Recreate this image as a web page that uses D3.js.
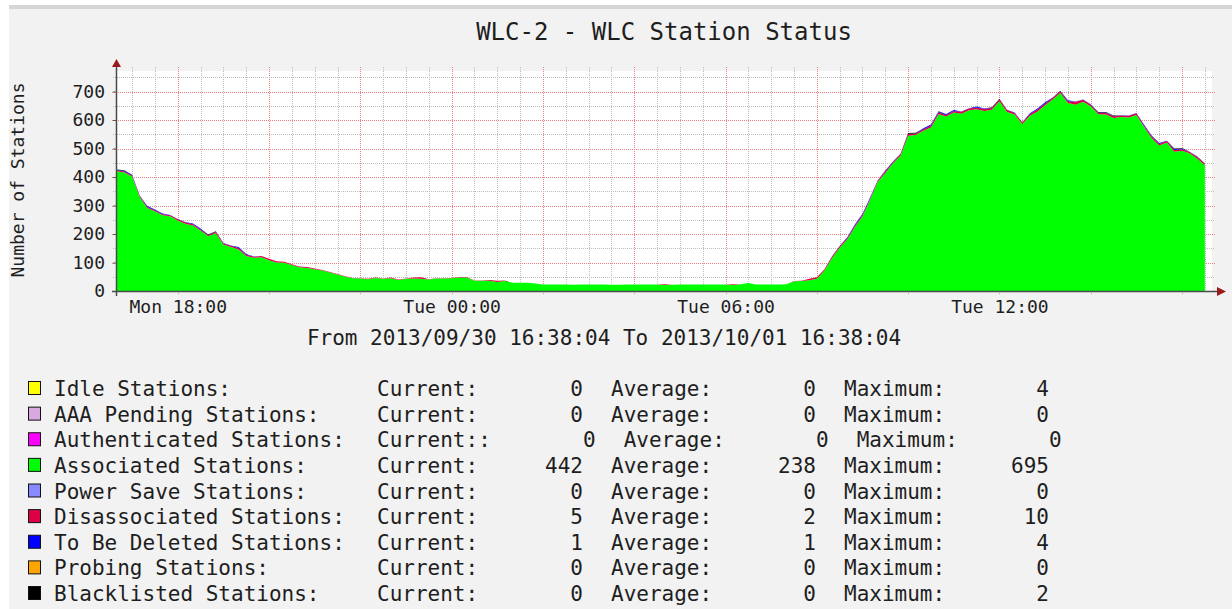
<!DOCTYPE html>
<html><head><meta charset="utf-8">
<script src="https://cdn.jsdelivr.net/npm/d3@7"></script>
<style>
body{margin:0;background:#fff}
text{font-family:"DejaVu Sans Mono","Liberation Mono",monospace;fill:#1e1e1e}
</style>
</head><body>
<svg id="c" width="1232" height="609"></svg>
<script>
// ---------------- DATA ----------------
const chartTitle = "WLC-2 - WLC Station Status";
const yAxisTitle = "Number of Stations";
const startTime = "2013-09-30T16:38:04Z";
const endTime   = "2013-10-01T16:38:04Z";
const firstSample = "2013-09-30T16:40:00Z";
const sampleStepMinutes = 10;

const xTickTimes  = ["2013-09-30T18:00:00Z","2013-10-01T00:00:00Z","2013-10-01T06:00:00Z","2013-10-01T12:00:00Z"];
const xTickLabels = ["Mon 18:00","Tue 00:00","Tue 06:00","Tue 12:00"];
const yTicks = [0,100,200,300,400,500,600,700];

const associated = [420,416,402,330,291,280,266,262,247,236,
230,212,192,203,163,154,146,123,117,118,
108,100,99,91,83,81,76,72,65,58,
50,45,44,41,46,43,45,39,43,44,
43,40,44,44,45,47,47,36,36,36,
32,36,29,29,29,26,23,23,23,23,
22,23,23,23,23,22,22,23,23,23,
23,23,21,22,23,23,23,23,23,23,
23,21,24,28,23,23,23,23,24,34,
35,38,43,72,116,152,182,225,262,320,
383,414,448,475,545,547,562,574,620,612,
626,622,634,638,632,636,666,628,619,586,
615,630,652,672,695,660,654,664,648,620,
619,607,611,609,618,576,537,511,521,489,
492,483,464,442];

const disassociated = [3,3,3,4,4,3,3,4,5,5,
4,4,3,4,4,5,5,4,3,5,
5,4,4,3,3,3,3,2,2,2,
2,1,1,2,1,1,2,1,1,3,
5,1,1,1,1,2,2,1,1,3,
4,1,0,0,0,0,0,0,0,0,
0,0,0,0,0,0,0,0,0,0,
0,0,3,0,0,0,0,0,0,0,
0,3,0,0,0,0,0,0,0,1,
1,5,5,4,5,5,4,5,6,5,
5,6,5,6,6,5,6,7,6,6,
6,7,6,6,7,6,6,7,6,5,
6,7,6,6,5,6,10,7,6,5,
6,6,5,6,6,5,6,5,5,6,
5,5,5,5];

const toBeDeleted = [1,3,3,1,3,3,3,1,1,1,
3,3,1,1,1,1,3,3,1,0,
0,0,0,0,0,0,0,0,0,0,
0,0,0,0,0,0,0,0,0,0,
0,0,0,0,0,0,0,0,0,0,
0,0,0,0,0,0,0,0,0,0,
0,0,0,0,0,0,0,0,0,0,
0,0,0,0,0,0,0,0,0,0,
0,0,0,0,0,0,0,0,0,0,
0,0,0,0,1,1,3,3,3,3,
1,3,1,1,1,1,3,3,3,3,
3,1,1,3,1,1,1,1,1,1,
3,3,4,1,1,3,1,1,1,1,
1,1,1,1,1,3,3,3,1,3,
3,1,1,1];

const blacklisted = [2,2,0,0,0,0,0,0,0,0,
0,0,2,2,0,0,0,0,0,0,
0,0,0,0,0,0,0,0,0,0,
0,0,0,0,0,0,0,0,0,0,
0,0,0,0,0,0,0,0,0,0,
0,0,0,0,0,0,0,0,0,0,
0,0,0,0,0,0,0,0,0,0,
0,0,0,0,0,0,0,0,0,0,
0,0,0,0,0,0,0,0,0,0,
0,0,0,0,0,0,0,0,0,0,
0,0,0,0,2,2,0,0,2,0,
0,0,0,0,0,2,2,0,0,0,
0,0,0,0,2,0,0,0,0,2,
2,2,0,0,0,0,0,0,0,2,
2,0,2,0];

const legendNames  = ["Idle Stations:","AAA Pending Stations:","Authenticated Stations:","Associated Stations:","Power Save Stations:","Disassociated Stations:","To Be Deleted Stations:","Probing Stations:","Blacklisted Stations:"];
const legendColors = ["#ffff00","#d8a8e0","#ff00ff","#00ff00","#8888ff","#dc0044","#0000ff","#ffa500","#000000"];
const currentLabels = ["Current:","Current:","Current::","Current:","Current:","Current:","Current:","Current:","Current:"];
const currentVals  = [0,0,0,442,0,5,1,0,0];
const averageVals  = [0,0,0,238,0,2,1,0,0];
const maximumVals  = [4,0,0,695,0,10,4,0,2];

const stackKeys   = ["associated","disassociated","toBeDeleted","blacklisted"];
const stackColors = {associated:"#00ff00",disassociated:"#dc0044",toBeDeleted:"#0000ff",blacklisted:"#000000"};

// ---------------- CHART ----------------
const svg = d3.select("#c");
svg.append("rect").attr("width",1232).attr("height",609).attr("fill","#fff");
svg.append("rect").attr("x",9).attr("y",5).attr("width",1223).attr("height",604).attr("fill","#f2f2f2");
svg.append("rect").attr("x",9).attr("y",5).attr("width",1223).attr("height",4).attr("fill","#d6d6d6");

const t0 = new Date(startTime), t1 = new Date(endTime), ts = new Date(firstSample);
const x = d3.scaleUtc().domain([t0,t1]).range([115.4,1211]);
const y = d3.scaleLinear().domain([0,772]).range([291,71]);

// plot background
svg.append("rect").attr("x",116).attr("y",71).attr("width",1096).attr("height",220).attr("fill","#fff");

// grid
const grid = svg.append("g");
const majorX = d3.utcHour.every(2).range(t0,t1);
const minorX = d3.utcMinute.every(30).range(t0,t1).filter(d => !(d.getUTCMinutes()===0 && d.getUTCHours()%2===0));
grid.selectAll(".vmin").data(minorX).join("line")
  .attr("x1",d=>Math.round(x(d))+0.5).attr("x2",d=>Math.round(x(d))+0.5)
  .attr("y1",67).attr("y2",291)
  .attr("stroke","#bdbdbd").attr("stroke-dasharray","1,1");
grid.selectAll(".vmaj").data(majorX).join("line")
  .attr("x1",d=>Math.round(x(d))+0.5).attr("x2",d=>Math.round(x(d))+0.5)
  .attr("y1",67).attr("y2",295)
  .attr("stroke","#f08080").attr("stroke-dasharray","1,1");
const hAll = d3.range(50,772,50);
grid.selectAll(".hmin").data(hAll.filter(v=>v%100!==0)).join("line")
  .attr("x1",113).attr("x2",1215)
  .attr("y1",d=>Math.round(y(d))+0.5).attr("y2",d=>Math.round(y(d))+0.5)
  .attr("stroke","#bdbdbd").attr("stroke-dasharray","1,1");
grid.selectAll(".hmaj").data(yTicks.filter(v=>v>0)).join("line")
  .attr("x1",112).attr("x2",1215)
  .attr("y1",d=>Math.round(y(d))+0.5).attr("y2",d=>Math.round(y(d))+0.5)
  .attr("stroke","#f08080").attr("stroke-dasharray","1,1");

// data
const rows = associated.map((v,i)=>({
  t: d3.utcMinute.offset(ts, i*sampleStepMinutes),
  associated: v, disassociated: disassociated[i], toBeDeleted: toBeDeleted[i], blacklisted: blacklisted[i]
}));
const series = d3.stack().keys(stackKeys)(rows);
const area = d3.area().x(d=>x(d.data.t)).y0(d=>y(d[0])).y1(d=>y(d[1])).curve(d3.curveLinear);
svg.append("g").selectAll("path").data(series).join("path")
  .attr("d",area).attr("fill",d=>stackColors[d.key]);

// axes
const yAxis = svg.append("g").attr("transform","translate(116,0)")
  .call(d3.axisLeft(y).tickValues(yTicks).tickSize(3).tickPadding(8).tickFormat(d3.format("d")));
yAxis.select(".domain").remove();
yAxis.selectAll("line").attr("stroke","#555");
yAxis.selectAll("text").style("font-size","18px").style("font-family","DejaVu Sans Mono").attr("fill","#222");

const xAxis = svg.append("g").attr("transform","translate(0,291)")
  .call(d3.axisBottom(x).tickValues(xTickTimes.map(s=>new Date(s))).tickFormat((d,i)=>xTickLabels[i]).tickSize(0).tickPadding(9));
xAxis.select(".domain").remove();
xAxis.selectAll("text").style("font-size","18px").style("font-family","DejaVu Sans Mono").attr("fill","#222");

// axis lines and arrows
svg.append("line").attr("x1",116.5).attr("x2",116.5).attr("y1",64).attr("y2",296).attr("stroke","#4a4a4a").attr("stroke-width",1.5);
svg.append("line").attr("x1",112).attr("x2",1218).attr("y1",291.5).attr("y2",291.5).attr("stroke","#4a4a4a").attr("stroke-width",1.5);
svg.append("path").attr("d","M112,67 L121,67 L116.5,59 Z").attr("fill","#9a1a1a");
svg.append("path").attr("d","M1217,287 L1217,296 L1226,291.5 Z").attr("fill","#9a1a1a");

// titles
svg.append("text").attr("x",664).attr("y",40).attr("text-anchor","middle").style("font-size","24px").text(chartTitle);
svg.append("text").attr("transform","translate(24,180) rotate(-90)").attr("text-anchor","middle").style("font-size","18px").text(yAxisTitle);
const fmt = d3.utcFormat("%Y/%m/%d %H:%M:%S");
svg.append("text").attr("x",604).attr("y",345).attr("text-anchor","middle").style("font-size","21px")
  .text("From " + fmt(t0) + " To " + fmt(t1));

// legend
const cw = 21*0.602;
const leg = svg.append("g");
legendNames.forEach((name,i)=>{
  const cy = 388 + i*25.625;
  const base = cy + 8;
  const shift = (currentLabels[i].length - 8)*cw;
  leg.append("rect").attr("x",28.5).attr("y",cy-6.5).attr("width",12).attr("height",13)
    .attr("fill",legendColors[i]).attr("stroke","#111").attr("stroke-width",1);
  const t = (xx,str,anchor)=>leg.append("text").attr("x",xx).attr("y",base).attr("text-anchor",anchor||"start")
    .style("font-size","21px").text(str);
  t(54,name);
  t(377,currentLabels[i]);
  t(583+shift,String(currentVals[i]),"end");
  t(611+shift,"Average:");
  t(816+shift,String(averageVals[i]),"end");
  t(844+shift,"Maximum:");
  t(1049+shift,String(maximumVals[i]),"end");
});
</script>
</body></html>
